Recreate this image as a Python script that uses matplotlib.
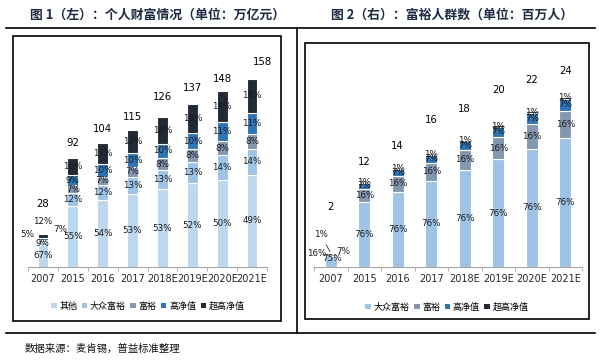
import matplotlib
matplotlib.use("Agg")
import matplotlib.pyplot as plt
from matplotlib.patches import Rectangle, Patch
from matplotlib.lines import Line2D

plt.rcParams['font.family'] = ['DejaVu Sans', 'Noto Sans CJK SC']
CJK = ['Noto Sans CJK SC', 'DejaVu Sans']

# ---- data ----
years = ['2007', '2015', '2016', '2017', '2018E', '2019E', '2020E', '2021E']

# figure 1: personal wealth (trillion yuan) and share by tier (%)
wealth_total = [28, 92, 104, 115, 126, 137, 148, 158]
wealth_other = [67, 55, 54, 53, 53, 52, 50, 49]
wealth_mass = [9, 12, 12, 13, 13, 13, 14, 14]
wealth_affluent = [5, 7, 7, 7, 8, 8, 8, 8]
wealth_hnw = [7, 9, 10, 10, 10, 10, 11, 11]
wealth_uhnw = [12, 16, 17, 17, 18, 18, 18, 18]

# figure 2: affluent population (million) and share by tier (%)
people_total = [2, 12, 14, 16, 18, 20, 22, 24]
people_mass = [75, 76, 76, 76, 76, 76, 76, 76]
people_affluent = [16, 16, 16, 16, 16, 16, 16, 16]
people_hnw = [7, 7, 7, 7, 7, 7, 7, 7]
people_uhnw = [1, 1, 1, 1, 1, 1, 1, 1]

tiers_left = ['其他', '大众富裕', '富裕', '高净值', '超高净值']
tiers_right = ['大众富裕', '富裕', '高净值', '超高净值']
colors = {'其他': '#BDD7EE', '大众富裕': '#9DC3E6', '富裕': '#8497B0',
          '高净值': '#2E75B6', '超高净值': '#222A35'}

# ---- layout (pixels) ----
W, H = 604, 361
fig = plt.figure(figsize=(W / 100, H / 100), dpi=100)


def box(x0, y0, x1, y1):
    return [x0 / W, 1 - y1 / H, (x1 - x0) / W, (y1 - y0) / H]


def hline(x0, x1, y):
    fig.add_artist(Line2D([x0 / W, x1 / W], [1 - y / H] * 2, color='black', lw=1.2))


def vline(x, y0, y1):
    fig.add_artist(Line2D([x / W] * 2, [1 - y0 / H, 1 - y1 / H], color='black', lw=1.2))


def frame(x0, y0, x1, y1):
    fig.add_artist(Rectangle((x0 / W, 1 - y1 / H), (x1 - x0) / W, (y1 - y0) / H,
                             transform=fig.transFigure, fill=False, ec='black', lw=1.2))


hline(6, 595, 28)
hline(6, 595, 333)
vline(297, 28, 333)
frame(13, 36, 281, 321)
frame(305, 43, 589, 319)

fig.text(158 / W, 1 - 15 / H, '图 1（左）：个人财富情况（单位：万亿元）', ha='center', va='center',
         fontsize=9.3, fontweight='bold', color='#1f2a44', family=CJK)
fig.text(452 / W, 1 - 15 / H, '图 2（右）：富裕人群数（单位：百万人）', ha='center', va='center',
         fontsize=9.3, fontweight='bold', color='#1f2a44', family=CJK)
fig.text(25 / W, 1 - 349 / H, '数据来源：麦肯锡，普益标准整理', ha='left', va='center',
         fontsize=7.5, color='#111111', family=CJK)


def style_axis(ax, ymax):
    ax.set_xlim(-0.5, len(years) - 0.5)
    ax.set_ylim(0, ymax)
    for s in ('top', 'left', 'right'):
        ax.spines[s].set_visible(False)
    ax.spines['bottom'].set_color('#A6A6A6')
    ax.set_yticks([])
    ax.set_xticks(range(len(years)))
    ax.set_xticklabels(years, fontsize=7, color='#262626')
    ax.tick_params(axis='x', which='major', length=0, pad=5)
    ax.set_xticks([i - 0.5 for i in range(len(years) + 1)], minor=True)
    ax.tick_params(axis='x', which='minor', length=3, color='#A6A6A6')
    ax.patch.set_alpha(0)


def stacked(ax, totals, shares, names, special, total_offsets, total_dx):
    n = len(totals)
    bottoms = [0.0] * n
    sums = [sum(s[i] for s in shares) for i in range(n)]
    for name, share in zip(names, shares):
        heights = [totals[i] * share[i] / sums[i] for i in range(n)]
        ax.bar(range(n), heights, bottom=bottoms, width=0.36, color=colors[name],
               edgecolor='white', linewidth=0.8)
        for i in range(n):
            yc = bottoms[i] + heights[i] / 2
            dx, dy, lead = special.get((name, i), (0, 0, False))
            kw = {}
            if lead:
                kw['arrowprops'] = dict(arrowstyle='-', color='#333333', lw=0.6,
                                        shrinkA=2, shrinkB=1)
            ax.annotate(f'{share[i]}%', (i, yc), xytext=(dx, dy),
                        textcoords='offset pixels', ha='center', va='center',
                        fontsize=6.3, color='#1a1a1a', **kw)
        bottoms = [bottoms[i] + heights[i] for i in range(n)]
    for i in range(n):
        ax.annotate(f'{totals[i]}', (i, totals[i]), xytext=(total_dx[i], total_offsets[i]),
                    textcoords='offset pixels', ha='center', va='center',
                    fontsize=7.3, color='black')


# left chart
axL = fig.add_axes(box(28, 45, 267, 267))
style_axis(axL, 222 / 1.19)
stacked(axL, wealth_total,
        [wealth_other, wealth_mass, wealth_affluent, wealth_hnw, wealth_uhnw],
        tiers_left,
        {('富裕', 0): (-16, 6, False), ('高净值', 0): (17, 9, False),
         ('超高净值', 0): (0, 14, False)},
        [30, 15, 14, 13, 20, 16, 12, 17],
        [0, 0, 0, 0, 0, 0, 0, 10])

# right chart
axR = fig.add_axes(box(314, 45, 582, 267))
style_axis(axR, 222 / 7.08)
stacked(axR, people_total,
        [people_mass, people_affluent, people_hnw, people_uhnw],
        tiers_right,
        {('大众富裕', 0): (1, 3, False), ('富裕', 0): (-14, 2, False),
         ('高净值', 0): (12, 2, False), ('超高净值', 0): (-10, 18, True)},
        [46, 20, 22, 34, 31, 35, 31, 26],
        [0] * 8)

# legends
for names, cx, cy in ((tiers_left, 148, 306), (tiers_right, 447, 307)):
    handles = [Patch(facecolor=colors[n], edgecolor='none') for n in names]
    fig.legend(handles, names, loc='center', bbox_to_anchor=(cx / W, 1 - cy / H),
               ncol=len(names), frameon=False, handlelength=0.6, handleheight=0.6,
               handletextpad=0.3, columnspacing=0.5,
               prop={'family': CJK, 'size': 6.5})

fig.savefig('out.png', dpi=100)
